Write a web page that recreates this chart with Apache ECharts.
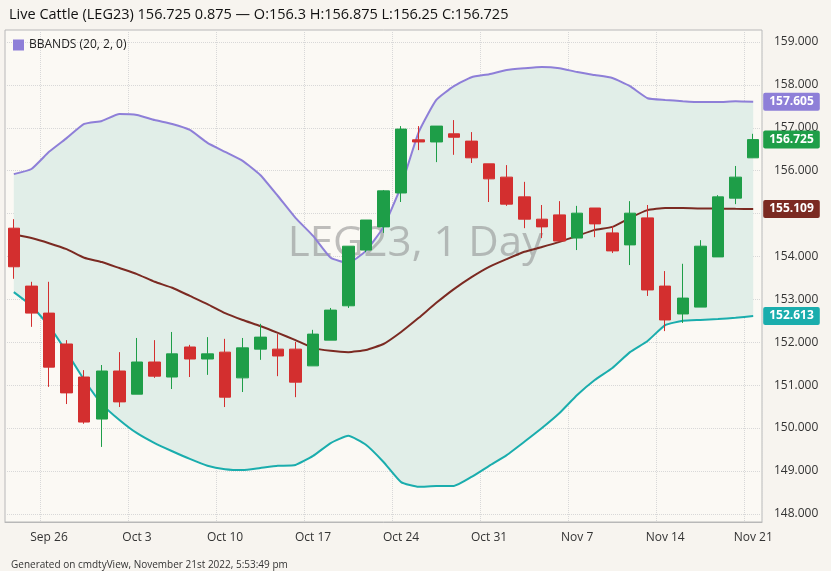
<!DOCTYPE html>
<html><head><meta charset="utf-8">
<script src="https://cdn.jsdelivr.net/npm/echarts@6/dist/echarts.min.js"></script>
<style>html,body{margin:0;padding:0;background:#f7f4ef}#c{width:831px;height:571px}</style>
</head><body><div id="c"></div>
<script>
const dates=['Sep 22','Sep 23','Sep 26','Sep 27','Sep 28','Sep 29','Sep 30','Oct 3','Oct 4','Oct 5','Oct 6','Oct 7','Oct 10','Oct 11','Oct 12','Oct 13','Oct 14','Oct 17','Oct 18','Oct 19','Oct 20','Oct 21','Oct 24','Oct 25','Oct 26','Oct 27','Oct 28','Oct 31','Nov 1','Nov 2','Nov 3','Nov 4','Nov 7','Nov 8','Nov 9','Nov 10','Nov 11','Nov 14','Nov 15','Nov 16','Nov 17','Nov 18','Nov 21'];
const axisLabels=['Sep 26','Oct 3','Oct 10','Oct 17','Oct 24','Oct 31','Nov 7','Nov 14','Nov 21'];
// [open, close, low, high]
const ohlc=[
[154.66,153.76,153.48,154.87],[153.31,152.68,152.36,153.41],[152.68,151.42,150.96,153.41],[151.96,150.82,150.56,152.05],
[151.19,150.14,150.10,151.35],[150.21,151.33,149.56,151.47],[151.33,150.61,150.49,151.77],[150.79,151.54,150.79,152.10],
[151.54,151.21,151.17,152.05],[151.19,151.73,150.91,152.24],[151.89,151.61,151.19,151.94],[151.61,151.73,151.24,152.12],
[151.77,150.72,150.49,152.08],[151.17,151.87,150.84,152.10],[151.84,152.12,151.59,152.43],[151.84,151.68,151.21,152.19],
[151.84,151.07,150.72,152.01],[151.45,152.19,151.45,152.29],[152.05,152.75,152.05,152.80],[152.85,154.24,152.80,154.24],
[154.15,154.85,154.10,154.85],[154.69,155.53,154.55,155.55],[155.48,156.97,155.27,157.04],[156.72,156.67,156.48,157.04],
[156.67,157.04,156.20,157.04],[156.86,156.78,156.37,157.18],[156.69,156.30,156.18,156.90],[156.16,155.81,155.27,156.16],
[155.85,155.22,155.18,156.13],[155.39,154.87,154.66,155.74],[154.87,154.69,154.43,155.20],[154.97,154.36,154.36,155.29],
[154.43,155.01,154.15,155.18],[155.13,154.76,154.45,155.13],[154.55,154.13,154.08,154.71],[154.27,155.01,153.80,155.29],
[154.90,153.22,153.08,155.20],[153.31,152.52,152.26,153.66],[152.66,153.03,152.45,153.83],[152.82,154.24,152.82,154.38],
[153.99,155.39,153.99,155.43],[155.36,155.85,155.22,156.11],[156.30,156.725,156.30,156.86]];
const upper=[155.92,156.04,156.44,156.76,157.09,157.16,157.32,157.30,157.18,157.09,156.95,156.65,156.44,156.23,155.90,155.41,154.90,154.48,153.97,153.85,154.13,154.69,155.64,156.90,157.65,157.97,158.18,158.25,158.35,158.39,158.42,158.39,158.30,158.23,158.16,157.97,157.69,157.65,157.62,157.60,157.60,157.62,157.605];
const middle=[154.52,154.43,154.31,154.17,153.97,153.87,153.73,153.59,153.41,153.27,153.08,152.89,152.68,152.52,152.38,152.22,152.05,151.87,151.80,151.77,151.82,151.96,152.24,152.57,152.92,153.24,153.52,153.76,153.94,154.11,154.22,154.34,154.48,154.62,154.69,154.90,155.08,155.13,155.13,155.12,155.12,155.11,155.109];
const lower=[153.17,152.85,152.38,151.77,151.12,150.56,150.19,149.88,149.65,149.46,149.28,149.12,149.04,149.02,149.07,149.12,149.14,149.35,149.65,149.82,149.61,149.21,148.74,148.63,148.65,148.65,148.86,149.12,149.37,149.68,150.00,150.35,150.77,151.12,151.40,151.77,152.03,152.40,152.50,152.52,152.54,152.57,152.613];
const yTicks=[148,149,150,151,152,153,154,155,156,157,158,159];

const width=upper.map((u,i)=>u-lower[i]);
const lastClose=ohlc.map((d,i)=>i===ohlc.length-1?d[1]:null);
const tag=(bg)=>({show:true,formatter:p=>Number(p.value).toFixed(3),backgroundColor:bg,color:'#fff',fontWeight:'bold',fontSize:12,padding:[3,6],borderRadius:2,distance:10,fontFamily:'Open Sans'});
const chart=echarts.init(document.getElementById('c'));
chart.setOption({
 backgroundColor:'#f7f4ef',animation:false,
 textStyle:{fontFamily:'Open Sans'},
 title:[{text:'Live Cattle (LEG23) 156.725 0.875 — O:156.3 H:156.875 L:156.25 C:156.725',left:4,top:2,textStyle:{fontSize:14.5,fontWeight:'normal',color:'#111',fontFamily:'Open Sans'}},
  {text:'Generated on cmdtyView, November 21st 2022, 5:53:49 pm',left:6,top:555,textStyle:{fontSize:10,fontWeight:'normal',color:'#333'}},
  {text:'LEG23, 1 Day',left:'center',top:218,z:1,textStyle:{fontSize:42,fontWeight:'normal',color:'rgba(140,140,140,0.55)',fontFamily:'Open Sans'}}],
 legend:{show:true,left:8,top:34,itemWidth:11,itemHeight:11,icon:'rect',data:[{name:'BBANDS (20, 2, 0)',itemStyle:{color:'#8e7fd8'}}],textStyle:{fontSize:12,color:'#222'}},
 grid:{left:5,right:69,top:30,bottom:49,show:true,backgroundColor:'#fbf9f4',borderColor:'#b8b8b8',borderWidth:1},
 xAxis:{type:'category',data:dates,boundaryGap:true,
  axisLine:{lineStyle:{color:'#b8b8b8'}},axisTick:{show:false},
  axisLabel:{interval:(i,v)=>axisLabels.includes(v),color:'#333',fontSize:12,margin:10},
  splitLine:{show:true,interval:(i,v)=>axisLabels.includes(v),lineStyle:{color:'#d8d8d8',type:'dotted'}}},
 yAxis:{type:'value',position:'right',min:147.81,max:159.28,
  axisLine:{show:false},axisTick:{show:false,customValues:yTicks},
  axisLabel:{customValues:yTicks,formatter:v=>v.toFixed(3),color:'#333',fontSize:12,margin:12},
  splitLine:{show:true,lineStyle:{color:'#d8d8d8',type:'dotted'}}},
 series:[
  {name:'base',type:'line',data:lower,stack:'band',symbol:'none',z:0,lineStyle:{opacity:0},silent:true},
  {name:'bandfill',type:'line',data:width,stack:'band',symbol:'none',z:0,lineStyle:{opacity:0},areaStyle:{color:'#e1eee8',opacity:1},silent:true},
  {name:'BBANDS (20, 2, 0)',type:'line',data:upper,symbol:'none',smooth:0.15,z:3,lineStyle:{color:'#8e7fd8',width:2},endLabel:tag('#8e7fd8')},
  {name:'mid',type:'line',data:middle,symbol:'none',smooth:0.15,z:3,lineStyle:{color:'#7b2a22',width:2},endLabel:tag('#7b2a22')},
  {name:'low',type:'line',data:lower,symbol:'none',smooth:0.15,z:3,lineStyle:{color:'#1aadad',width:2},endLabel:tag('#1aadad')},
  {name:'k',type:'candlestick',data:ohlc,barWidth:12,z:5,itemStyle:{color:'#1e9e48',color0:'#d32f2f',borderColor:'#1e9e48',borderColor0:'#d32f2f',borderWidth:1}},
  {name:'closeTag',type:'line',data:lastClose,symbol:'none',z:6,lineStyle:{opacity:0},endLabel:tag('#1e9e48')}
 ]
});
</script></body></html>
